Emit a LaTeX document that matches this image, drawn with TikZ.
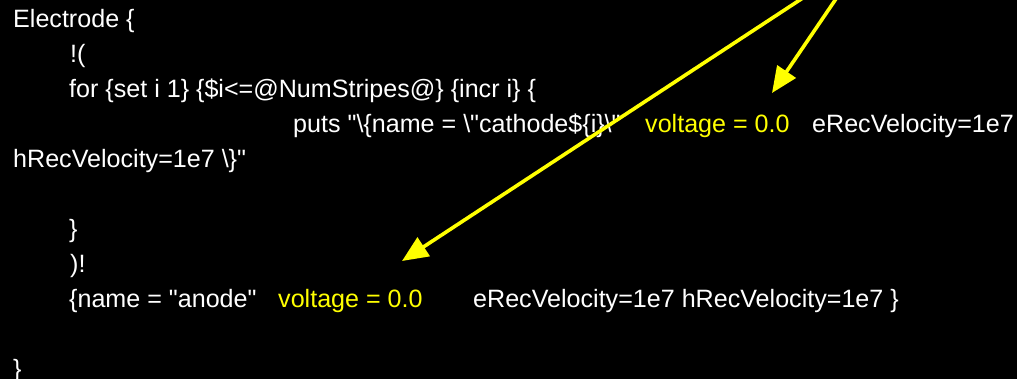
\documentclass[tikz,border=0pt]{standalone}
\usepackage{fontspec}
\setmainfont{Liberation Sans}[Ligatures=TeXOff]
\usetikzlibrary{arrows.meta,positioning}
\definecolor{hiyellow}{HTML}{FFFF00}

\begin{document}
\begin{tikzpicture}[x=1pt,y=-1pt,
  code/.style={anchor=base west,inner sep=0pt,text=white,font=\fontsize{25.1}{30}\selectfont},
  hl/.style={code,text=hiyellow},
  arr/.style={-{Triangle[length=26pt,width=22pt]},line width=3.6pt,draw=hiyellow}
]
\fill[black] (0,0) rectangle (1017,379);
\clip (0,0) rectangle (1017,379);
% code lines
\node[code] (electrode) at (13,28) {Electrode \{};
\node[code] (open) at (70,62.9) {!(};
\node[code] (forloop) at (69,97.8) {for \{set i 1\} \{\$i<=@NumStripes@\} \{incr i\} \{};
\node[code] (puts) at (293,132.7) {puts "\textbackslash\{name = \textbackslash"cathode\$\{i\}\textbackslash"};
\node[hl] (voltA) at (645,132.7) {voltage = 0.0};
\node[code] (erecA) at (812,132.7) {eRecVelocity=1e7};
\node[code] (hrecA) at (13,167.6) {hRecVelocity=1e7 \textbackslash\}"};
\node[code] (closefor) at (69,237.4) {\}};
\node[code] (close) at (70,272.3) {)!};
\node[code] (anode) at (69,307.2) {\{name = "anode"};
\node[hl] (voltB) at (278,307.2) {voltage = 0.0};
\node[code] (erecB) at (473,307.2) {eRecVelocity=1e7 hRecVelocity=1e7 \}};
\node[code] (closeall) at (13,377) {\}};
% pointers
\coordinate (srcA) at (842,-10);
\coordinate (srcB) at (815,-10);
\coordinate (tipA) at (772,93);
\coordinate (tipB) at (402,261);
\draw[arr] (srcA) -- (tipA);
\draw[arr] (srcB) -- (tipB);
\end{tikzpicture}
\end{document}
